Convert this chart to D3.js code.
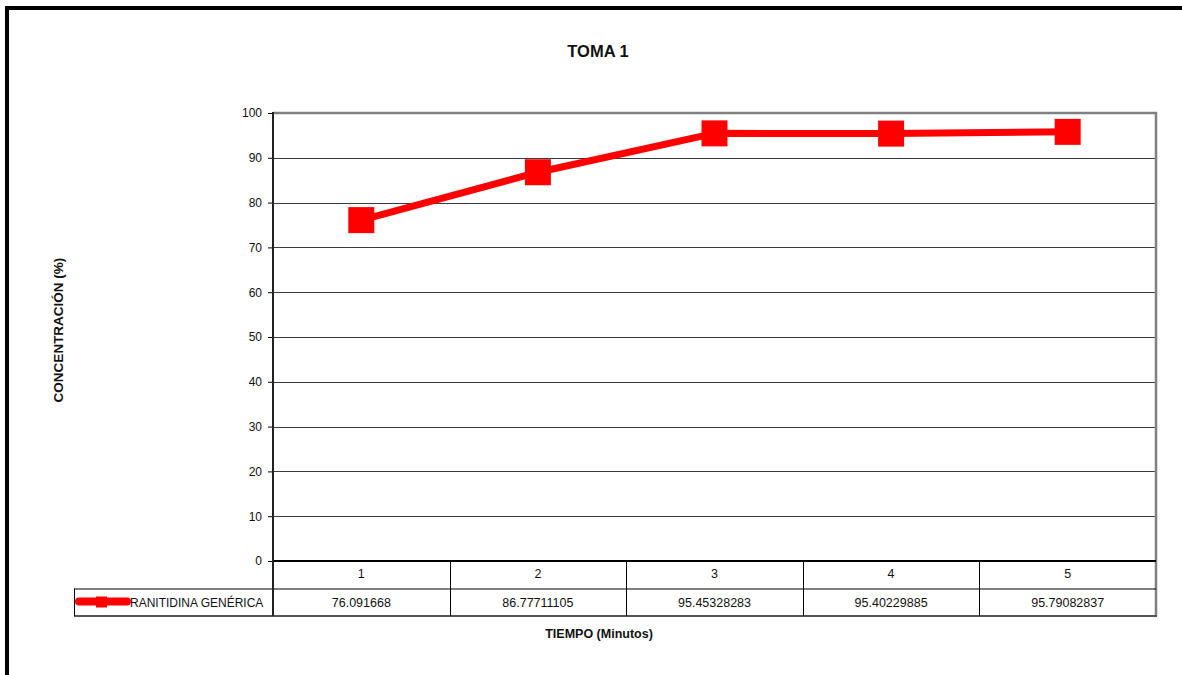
<!DOCTYPE html>
<html>
<head>
<meta charset="utf-8">
<script src="https://cdn.jsdelivr.net/npm/d3@7"></script>
<style>
  html, body { margin: 0; padding: 0; background: #fff; }
  svg { display: block; }
  text { font-family: "Liberation Sans", Arial, sans-serif; fill: #111; }
</style>
</head>
<body>
<script>
// Dissolution data for one sample
const categories = ["1", "2", "3", "4", "5"];
const seriesName = "RANITIDINA GENÉRICA";
const seriesValues = [76.091668, 86.77711105, 95.45328283, 95.40229885, 95.79082837];
const valueLabels = ["76.091668", "86.77711105", "95.45328283", "95.40229885", "95.79082837"];
const yTicks = [0, 10, 20, 30, 40, 50, 60, 70, 80, 90, 100];

const W = 1182, H = 675;
const plot = { left: 273, right: 1156, top: 113, bottom: 561 };
const rowH = 27.5;
const red = "#ff0000";

const svg = d3.select("body").append("svg").attr("width", W).attr("height", H);

// outer frame (top and left edges visible)
svg.append("path")
  .attr("d", `M7,${H + 5} L7,8 L${W + 5},8`)
  .attr("fill", "none").attr("stroke", "#000").attr("stroke-width", 4);

const x = d3.scaleBand().domain(categories).range([plot.left, plot.right]).paddingInner(0).paddingOuter(0);
const y = d3.scaleLinear().domain([0, 100]).range([plot.bottom, plot.top]);
const cx = c => x(c) + x.bandwidth() / 2;

// gridlines
svg.append("g").selectAll("line").data(yTicks.filter(t => t > 0 && t < 100)).join("line")
  .attr("x1", plot.left).attr("x2", plot.right)
  .attr("y1", d => Math.round(y(d)) + 0.5).attr("y2", d => Math.round(y(d)) + 0.5)
  .attr("stroke", "#3c3c3c").attr("stroke-width", 1);

// plot frame top / right
svg.append("path")
  .attr("d", `M${plot.left},${plot.top} L${plot.right},${plot.top} L${plot.right},${plot.bottom + 2 * rowH}`)
  .attr("fill", "none").attr("stroke", "#808080").attr("stroke-width", 2.5);

// y axis
const yAxis = d3.axisLeft(y).tickValues(yTicks).tickSize(5).tickPadding(6).tickFormat(d3.format("d"));
const gy = svg.append("g").attr("transform", `translate(${plot.left},0)`).call(yAxis);
gy.select(".domain").remove();
gy.selectAll(".tick line").attr("stroke", "#000").attr("stroke-width", 1);
gy.selectAll(".tick text").attr("font-size", 12).attr("font-family", "Liberation Sans, Arial, sans-serif").attr("fill", "#111");

// data table below the plot
const tbl = svg.append("g");
const row1 = plot.bottom + rowH, row2 = plot.bottom + 2 * rowH;
// horizontal lines
tbl.append("line").attr("x1", 74).attr("x2", plot.right).attr("y1", row1 + 0.5).attr("y2", row1 + 0.5)
  .attr("stroke", "#000").attr("stroke-width", 1);
tbl.append("line").attr("x1", 74).attr("x2", plot.right + 1).attr("y1", row2).attr("y2", row2)
  .attr("stroke", "#555").attr("stroke-width", 2);
// legend cell left edge
tbl.append("line").attr("x1", 74.5).attr("x2", 74.5).attr("y1", row1).attr("y2", row2)
  .attr("stroke", "#000").attr("stroke-width", 1);
// column separators
tbl.selectAll("line.col").data(categories.slice(1)).join("line").attr("class", "col")
  .attr("x1", d => Math.round(x(d)) + 0.5).attr("x2", d => Math.round(x(d)) + 0.5)
  .attr("y1", plot.bottom).attr("y2", row2)
  .attr("stroke", "#000").attr("stroke-width", 1);
// category labels
tbl.selectAll("text.cat").data(categories).join("text").attr("class", "cat")
  .attr("x", d => cx(d)).attr("y", plot.bottom + 16.5)
  .attr("text-anchor", "middle").attr("font-size", 12.5).text(d => d);
// value labels
tbl.selectAll("text.val").data(valueLabels).join("text").attr("class", "val")
  .attr("x", (d, i) => cx(categories[i])).attr("y", row1 + 18)
  .attr("text-anchor", "middle").attr("font-size", 12.5).text(d => d);
// legend key
tbl.append("line").attr("x1", 79).attr("x2", 127).attr("y1", row1 + 13).attr("y2", row1 + 13)
  .attr("stroke", red).attr("stroke-width", 8).attr("stroke-linecap", "round");
tbl.append("rect").attr("x", 96).attr("y", row1 + 8).attr("width", 11).attr("height", 11).attr("fill", red);
tbl.append("text").attr("x", 130).attr("y", row1 + 18.5).attr("font-size", 12).text(seriesName);

// axes lines (x axis and y axis, y axis runs through the table)
svg.append("line").attr("x1", plot.left).attr("x2", plot.right).attr("y1", plot.bottom).attr("y2", plot.bottom)
  .attr("stroke", "#000").attr("stroke-width", 2);
svg.append("line").attr("x1", plot.left).attr("x2", plot.left).attr("y1", plot.top - 1).attr("y2", row2)
  .attr("stroke", "#222").attr("stroke-width", 2);

// series line and markers
const line = d3.line().x((d, i) => cx(categories[i])).y(d => y(d));
svg.append("path").datum(seriesValues).attr("d", line)
  .attr("fill", "none").attr("stroke", red).attr("stroke-width", 7).attr("stroke-linejoin", "round");
const ms = 26;
svg.selectAll("rect.mk").data(seriesValues).join("rect").attr("class", "mk")
  .attr("x", (d, i) => cx(categories[i]) - ms / 2).attr("y", d => y(d) - ms / 2)
  .attr("width", ms).attr("height", ms).attr("fill", red);

// titles
svg.append("text").attr("x", 598).attr("y", 57).attr("text-anchor", "middle")
  .attr("font-size", 16.5).attr("font-weight", "bold").text("TOMA 1");
svg.append("text").attr("x", 599).attr("y", 638).attr("text-anchor", "middle")
  .attr("font-size", 12.5).attr("font-weight", "bold").text("TIEMPO (Minutos)");
svg.append("text").attr("transform", "translate(63,330) rotate(-90)").attr("text-anchor", "middle")
  .attr("font-size", 13.5).attr("font-weight", "bold").text("CONCENTRACIÓN (%)");
</script>
</body>
</html>
